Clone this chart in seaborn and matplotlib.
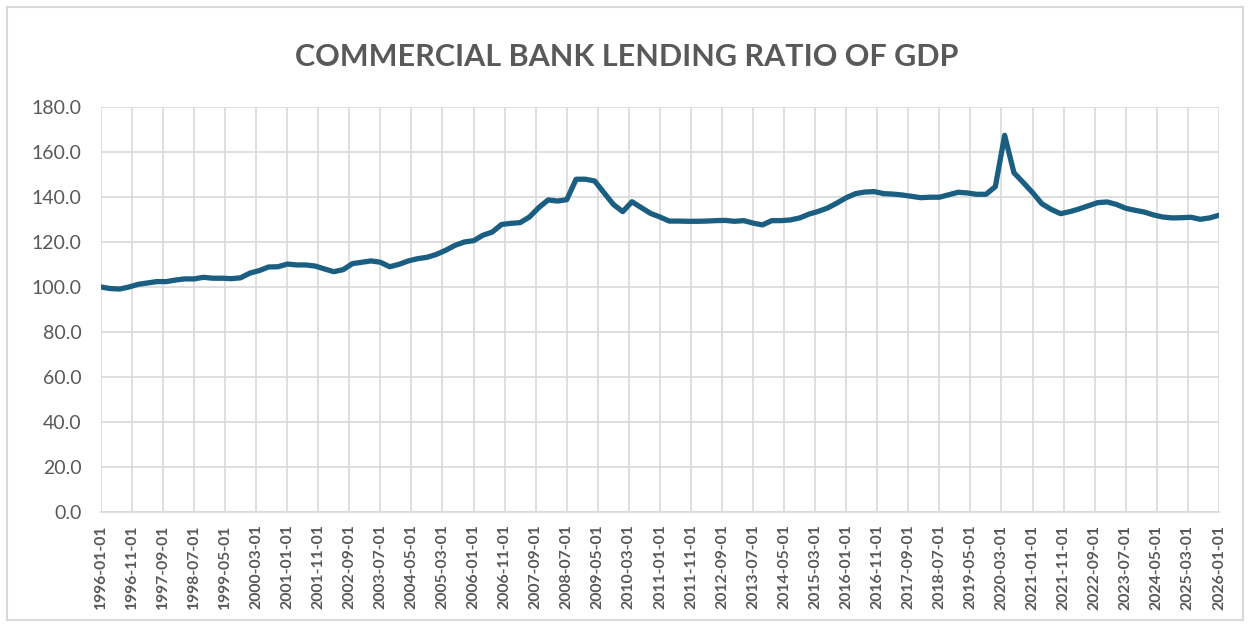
import numpy as np
import pandas as pd
import matplotlib
matplotlib.use("Agg")
import matplotlib.pyplot as plt
import matplotlib.dates as mdates
from matplotlib.patches import Rectangle
import seaborn as sns

sns.set_style("white")
plt.rcParams['font.family'] = ['Lato', 'DejaVu Sans']

# quarterly observations, 1996-01-01 .. 2026-01-01
dates = pd.date_range("1996-01-01", "2026-01-01", freq="QS")
ratio = [
    100.0, 99.3, 99.1, 100.0, 101.2, 101.8, 102.4, 102.4, 103.1, 103.6,
    103.6, 104.3, 103.9, 103.9, 103.7, 104.1, 106.2, 107.3, 108.9, 109.0,
    110.2, 109.8, 109.8, 109.3, 108.0, 106.8, 107.7, 110.4, 111.0, 111.6,
    111.0, 109.0, 110.1, 111.6, 112.6, 113.2, 114.5, 116.3, 118.5, 120.0,
    120.6, 123.0, 124.4, 127.8, 128.3, 128.6, 131.1, 135.3, 138.7, 138.2,
    138.8, 147.9, 147.9, 147.1, 141.9, 136.7, 133.5, 137.9, 135.3, 132.7,
    131.1, 129.3, 129.3, 129.2, 129.2, 129.3, 129.5, 129.6, 129.2, 129.5,
    128.4, 127.6, 129.5, 129.5, 129.8, 130.7, 132.4, 133.6, 135.1, 137.3,
    139.7, 141.5, 142.2, 142.4, 141.5, 141.3, 140.9, 140.3, 139.7, 139.9,
    139.9, 141.0, 142.1, 141.8, 141.2, 141.2, 144.6, 167.4, 150.8, 146.4,
    141.9, 137.0, 134.5, 132.6, 133.5, 134.7, 136.1, 137.5, 137.8, 136.7,
    135.0, 134.1, 133.3, 132.0, 131.1, 130.7, 130.8, 131.0, 130.1, 130.7,
    131.9,
]
df = pd.DataFrame({"date": dates, "ratio": ratio})

# axis ticks every 10 months
tick_dates = pd.date_range("1996-01-01", "2026-01-01", freq="10MS")
y_ticks = np.arange(0, 181, 20)

TEXT = "#595959"
GRID = "#d9d9d9"
LINE = "#1a5f82"

fig = plt.figure(figsize=(12.49, 6.24), dpi=100)
ax = fig.add_axes([101 / 1249, 1 - 512 / 624, 1118 / 1249, 405 / 624])

sns.lineplot(data=df, x="date", y="ratio", ax=ax, color=LINE, linewidth=3.8,
             solid_capstyle="round", solid_joinstyle="round")

ax.set_xlim(dates[0], dates[-1])
ax.set_ylim(0, 180)
ax.set_yticks(y_ticks)
ax.set_yticklabels([f"{v:.1f}" for v in y_ticks], fontsize=14, color=TEXT)
ax.set_xticks(tick_dates)
ax.set_xticklabels([d.strftime("%Y-%m-%d") for d in tick_dates], rotation=90,
                   fontsize=11.3, fontweight="bold", color=TEXT)
ax.tick_params(axis="both", length=0)
ax.tick_params(axis="x", pad=9)
ax.tick_params(axis="y", pad=14)

ax.grid(True, color=GRID, linewidth=1.2)
ax.set_axisbelow(True)
for side in ["top", "right", "left"]:
    ax.spines[side].set_visible(False)
ax.spines["bottom"].set_color(GRID)
ax.spines["bottom"].set_linewidth(1.2)
ax.set_xlabel("")
ax.set_ylabel("")

fig.text(0.502, 1 - 57 / 624, "COMMERCIAL BANK LENDING RATIO OF GDP",
         ha="center", va="center", fontsize=22, fontweight="bold", color=TEXT)

# chart area border
fig.patches.append(Rectangle((7 / 1249, 4 / 624), 1236 / 1249, 613 / 624,
                             transform=fig.transFigure, fill=False,
                             edgecolor=GRID, linewidth=1.5))

fig.savefig("out.png", dpi=100, facecolor="white")
